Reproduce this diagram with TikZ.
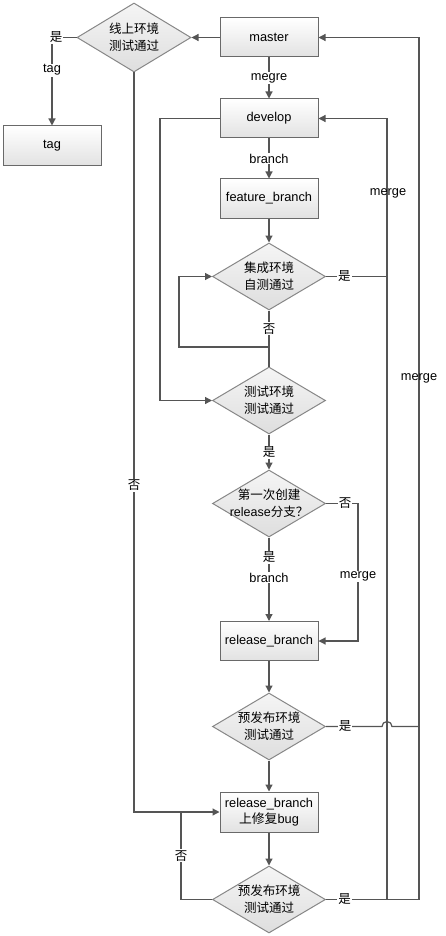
\documentclass[tikz,border=0pt]{standalone}
\usepackage{fontspec}
\setmainfont{Liberation Sans}
\newfontfamily\cjk{Noto Sans CJK SC}
\newfontfamily\lat{Liberation Sans}
\usetikzlibrary{shapes.geometric,arrows.meta}
\newcommand\dline[1]{\makebox[0pt]{#1}}
\definecolor{linec}{RGB}{85,85,85}
\definecolor{boxline}{RGB}{105,105,105}
\definecolor{dialine}{RGB}{135,135,135}
\definecolor{boxbot}{RGB}{226,226,226}
\definecolor{diatop}{RGB}{245,245,245}
\definecolor{diabot}{RGB}{222,222,222}
\tikzset{
  stepbox/.style={draw=boxline, line width=1pt, top color=white, bottom color=boxbot,
    minimum width=98pt, minimum height=39pt, inner sep=0pt, align=center,
    font=\fontsize{12.8}{16}\selectfont},
  decide/.style={diamond, draw=dialine, line width=1pt, top color=diatop, bottom color=diabot,
    shape aspect=1.69, minimum width=113pt, minimum height=67pt, inner sep=0pt, align=center,
    font=\cjk\fontsize{12.5}{17}\selectfont},
  conn/.style={draw=linec, line width=1.2pt},
  arr/.style={conn, -{Triangle[length=7pt,width=7pt]}},
  lbl/.style={fill=white, inner sep=1pt, text=black, font=\fontsize{12.8}{15}\selectfont},
  clbl/.style={lbl, font=\cjk\fontsize{12.5}{15}\selectfont},
  plbl/.style={inner sep=1pt, text=black, font=\fontsize{12.8}{15}\selectfont},
}
\begin{document}
\begin{tikzpicture}[x=1pt,y=-1pt]
\useasboundingbox (0,0) rectangle (446,936);
% nodes
\node[stepbox] (master) at (269,37.5) {master};
\node[decide, minimum width=114pt, minimum height=69pt] (dtop) at (134,37.5) {\dline{线上环境}\\\dline{测试通过}};
\node[stepbox, minimum height=40pt] (tag) at (52,146) {tag};
\node[stepbox] (develop) at (269,118.5) {develop};
\node[stepbox] (feat) at (269,198.5) {feature\_branch};
\node[decide] (d1) at (269,276.5) {\dline{集成环境}\\\dline{自测通过}};
\node[decide] (d2) at (269,400.5) {\dline{测试环境}\\\dline{测试通过}};
\node[decide] (d3) at (269,503.5) {\dline{第一次创建}\\\dline{{\lat release}分支？}};
\node[stepbox] (rel) at (269,641) {release\_branch};
\node[decide] (d4) at (269,726.5) {\dline{预发布环境}\\\dline{测试通过}};
\node[stepbox, minimum height=40pt] (fix) at (269,812) {release\_branch\\{\cjk 上修复}bug};
\node[decide] (d5) at (269,899.5) {\dline{预发布环境}\\\dline{测试通过}};
% coordinates
\coordinate (ctag) at (52,37.5);
\coordinate (j1) at (269,347);
\coordinate (l1) at (179,347);
\coordinate (dl) at (160,118.5);
\coordinate (m1) at (387,276.5);
\coordinate (c3) at (358,503.5);
\coordinate (c4) at (358,641);
\coordinate (jl) at (382,726.5);
\coordinate (jr) at (419,726.5);
\coordinate (b387) at (387,899.5);
\coordinate (b419) at (419,899.5);
\coordinate (ftop) at (134,812);
\coordinate (l5) at (181,899.5);
\coordinate (l5t) at (181,812);
% connectors
\draw[arr] (master.west) -- (dtop.east);
\draw[arr] (dtop.west) -- (ctag) -- node[lbl,pos=0.37]{tag} (tag.north);
\node[clbl] at (56,37.5) {是};
\draw[arr] (master.south) -- node[lbl]{megre} (develop.north);
\draw[arr] (develop.south) -- node[lbl]{branch} (feat.north);
\draw[arr] (feat.south) -- (d1.north);
\draw[conn] (d1.east) -- node[clbl,pos=0.3]{是} (m1);
\draw[conn] (d1.south) -- node[clbl,pos=0.5]{否} (j1) -- (d2.north);
\draw[arr] (j1) -- (l1) |- (d1.west);
\draw[arr] (develop.west) -- (dl) |- (d2.west);
\draw[arr] (d2.south) -- node[clbl]{是} (d3.north);
\draw[arr] (d3.east) -- node[clbl,pos=0.6]{否} (c3) -- node[lbl,pos=0.53]{merge} (c4) -- (rel.east);
\draw[arr] (d3.south) -- node[clbl,pos=0.235]{是} node[lbl,pos=0.48]{branch} (rel.north);
\draw[arr] (rel.south) -- (d4.north);
\draw[conn] (d4.east) -- node[clbl,pos=0.34]{是} (jl) arc(180:360:5) -- (jr);
\draw[arr] (d4.south) -- (fix.north);
\draw[arr] (dtop.south) -- node[clbl,pos=0.558]{否} (ftop) -- (fix.west);
\draw[arr] (fix.south) -- (d5.north);
\draw[conn] (d5.west) -- (l5) -- node[clbl]{否} (l5t);
\draw[conn] (d5.east) -- node[clbl,pos=0.2]{是} (b419);
\draw[arr] (b419) |- (master.east);
\draw[arr] (b387) |- (develop.east);
\node[plbl] at (388,193) {merge};
\node[plbl] at (419,378) {merge};
\end{tikzpicture}
\end{document}
